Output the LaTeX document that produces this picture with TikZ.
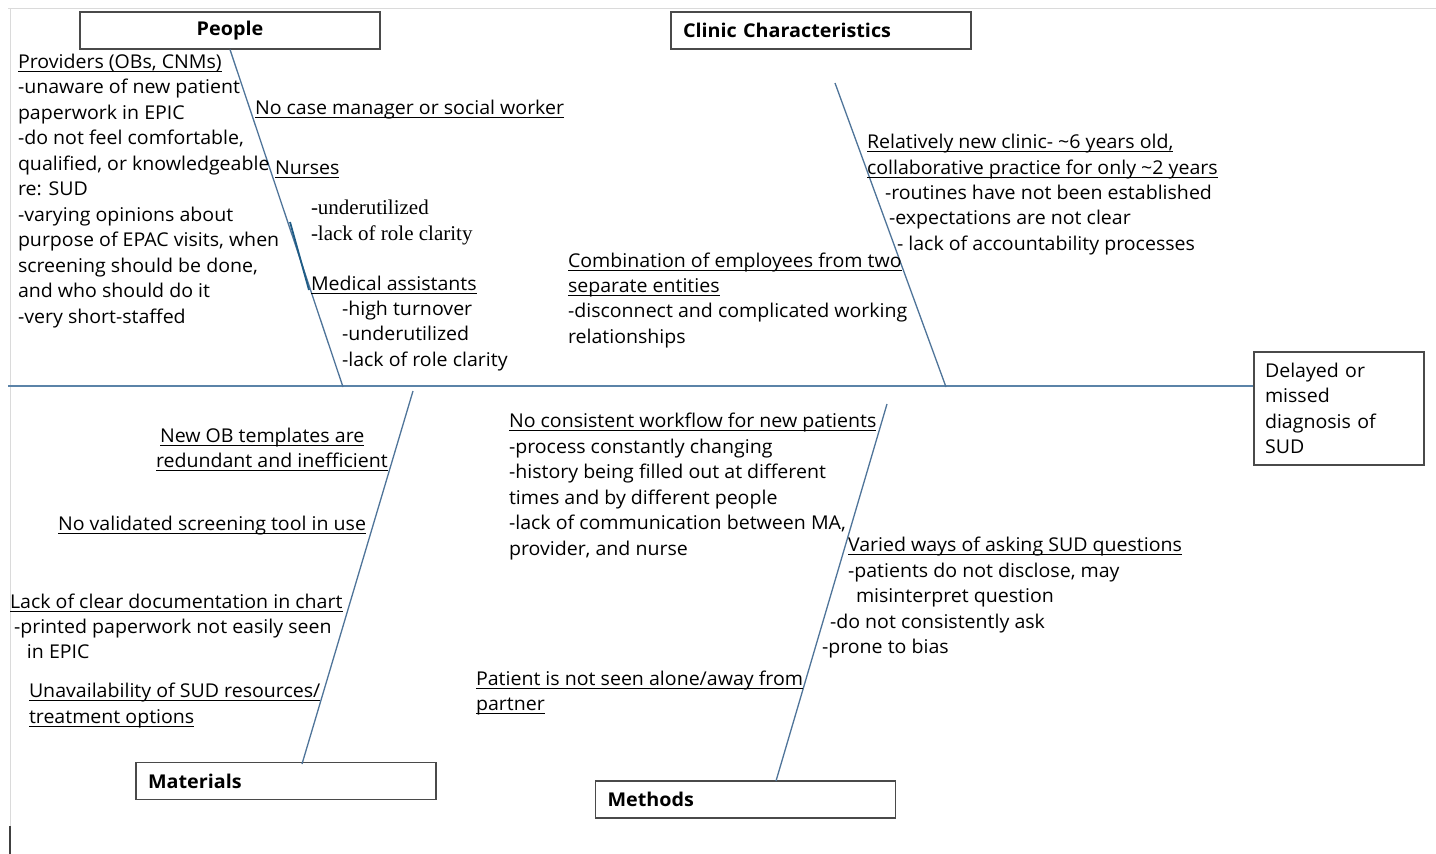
\documentclass[tikz,border=0pt]{standalone}
\usepackage{fontspec}
\setmainfont{Open Sans}
\newfontfamily\regf{Open Sans}[FakeStretch=1.03]
\newfontfamily\boldf{Open Sans}[FakeStretch=1.04]
\newfontfamily\tmsf{Liberation Serif}
\usetikzlibrary{calc}
\definecolor{bonec}{HTML}{4F7499}
\definecolor{spinec}{HTML}{5B83A8}
\definecolor{darkbone}{HTML}{1F5C86}
\definecolor{framec}{HTML}{DADADA}
\definecolor{boxc}{HTML}{4A4A4A}
\newcommand\myul[1]{\setbox0\hbox{#1}\rlap{\rule[-4.2pt]{\wd0}{1.7pt}}\box0}
\begin{document}
\begin{tikzpicture}[x=1pt,y=-1pt,
  reg/.style={anchor=base west,inner sep=0pt,outer sep=0pt,font=\regf\fontsize{19}{22}\selectfont},
  tms/.style={anchor=base west,inner sep=0pt,outer sep=0pt,font=\tmsf\fontsize{21}{24}\selectfont},
  catbox/.style={draw=boxc,line width=1.1pt,minimum height=37pt,inner xsep=12pt,inner ysep=0pt,text width=276pt,font=\boldf\bfseries\fontsize{19}{22}\selectfont},
  bone/.style={draw=bonec,line width=1.3pt},
  spine/.style={draw=spinec,line width=2pt},
  framel/.style={draw=framec,line width=1.5pt}]
\fill[white] (0,0) rectangle (1436,854);
\useasboundingbox (0,0) rectangle (1436,854);
% frame
\draw[framel] (8,8.5) -- (1436,8.5);
\draw[framel] (10.5,8) -- (10.5,826);
\draw[black!75,line width=2pt] (10,826) -- (10,854);
% category boxes
\node[catbox,align=center] (people) at (230,30.5) {People};
\node[catbox,align=left] (clinic) at (821,30.5) {Clinic Characteristics};
\node[catbox,align=left] (materials) at (286,781) {Materials};
\node[catbox,align=left] (methods) at (745.5,799.5) {Methods};
\node[draw=boxc,line width=1.1pt,minimum height=113pt,text width=148pt,inner xsep=11pt,inner ysep=0pt,align=left,
  font=\regf\fontsize{19}{25.4}\selectfont] (effect) at (1339,408.5) {Delayed or\\missed\\diagnosis of\\SUD};
% spine
\coordinate (sl) at (8,386);
\draw[spine] (sl) -- (sl -| effect.west);
% bones
\coordinate (pb) at (343,387);
\coordinate (ct) at (835,83);
\coordinate (cb) at (946,387);
\coordinate (mt) at (413,391);
\coordinate (mb) at (302,764);
\coordinate (wt) at (887,404);
\coordinate (wb) at (776,781);
\draw[bone] (people.south) -- (pb);
\draw[bone] (ct) -- (cb);
\draw[bone] (mt) -- (mb);
\draw[bone] (wt) -- (wb);
\coordinate (d1) at (290,222);
\coordinate (d2) at (309,290);
\draw[draw=darkbone,line width=1.8pt] (d1) -- (d2);
% People
\node[reg] (prov1) at (18,68) {\myul{Providers (OBs, CNMs)}};
\node[reg] (prov2) at (18,93.5) {-unaware of new patient};
\node[reg] (prov3) at (18,119) {paperwork in EPIC};
\node[reg] (prov4) at (18,144.5) {-do not feel comfortable,};
\node[reg] (prov5) at (18,170) {qualified, or knowledgeable};
\node[reg] (prov6) at (18,195.5) {re: SUD};
\node[reg] (prov7) at (18,221) {-varying opinions about};
\node[reg] (prov8) at (18,246.5) {purpose of EPAC visits, when};
\node[reg] (prov9) at (18,272) {screening should be done,};
\node[reg] (prov10) at (18,297.5) {and who should do it};
\node[reg] (prov11) at (18,323) {-very short-staffed};
\node[reg] (case) at (255,114) {\myul{No case manager or social worker}};
\node[reg] (nurses) at (275,174) {\myul{Nurses}};
\node[tms] (nur1) at (311,214) {-underutilized};
\node[tms] (nur2) at (311,240) {-lack of role clarity};
\node[reg] (ma) at (311,290) {\myul{Medical assistants}};
\node[reg] (ma1) at (342,315) {-high turnover};
\node[reg] (ma2) at (342,340.5) {-underutilized};
\node[reg] (ma3) at (342,366) {-lack of role clarity};
% Clinic
\node[reg] (rel1) at (867,148) {\myul{Relatively new clinic- \textasciitilde6 years old,}};
\node[reg] (rel2) at (867,174) {\myul{collaborative practice for only \textasciitilde2 years}};
\node[reg] (rel3) at (885,199) {-routines have not been established};
\node[reg] (rel4) at (889,224.5) {-expectations are not clear};
\node[reg] (rel5) at (897,250) {- lack of accountability processes};
\node[reg] (comb1) at (568,267) {\myul{Combination of employees from two}};
\node[reg] (comb2) at (568,292) {\myul{separate entities}};
\node[reg] (comb3) at (568,317.5) {-disconnect and complicated working};
\node[reg] (comb4) at (568,343) {relationships};
% Materials
\node[reg] (mat1) at (160,442) {\myul{New OB templates are}};
\node[reg] (mat2) at (156,467) {\myul{redundant and inefficient}};
\node[reg] (mat3) at (58,530) {\myul{No validated screening tool in use}};
\node[reg] (mat4) at (10,608) {\myul{Lack of clear documentation in chart}};
\node[reg] (mat5) at (14,633) {-printed paperwork not easily seen};
\node[reg] (mat6) at (27,658) {in EPIC};
\node[reg] (mat7) at (29,697) {\myul{Unavailability of SUD resources/}};
\node[reg] (mat8) at (29,723) {\myul{treatment options}};
% Methods
\node[reg] (met1) at (509,427) {\myul{No consistent workflow for new patients}};
\node[reg] (met2) at (509,453) {-process constantly changing};
\node[reg] (met3) at (509,478) {-history being filled out at different};
\node[reg] (met4) at (509,504) {times and by different people};
\node[reg] (met5) at (509,529) {-lack of communication between MA,};
\node[reg] (met6) at (509,555) {provider, and nurse};
\node[reg] (var1) at (848,551) {\myul{Varied ways of asking SUD questions}};
\node[reg] (var2) at (848,577) {-patients do not disclose, may};
\node[reg] (var3) at (856,602) {misinterpret question};
\node[reg] (var4) at (830,628) {-do not consistently ask};
\node[reg] (var5) at (822,653) {-prone to bias};
\node[reg] (pat1) at (476,685) {\myul{Patient is not seen alone/away from}};
\node[reg] (pat2) at (476,710) {\myul{partner}};
\end{tikzpicture}
\end{document}
